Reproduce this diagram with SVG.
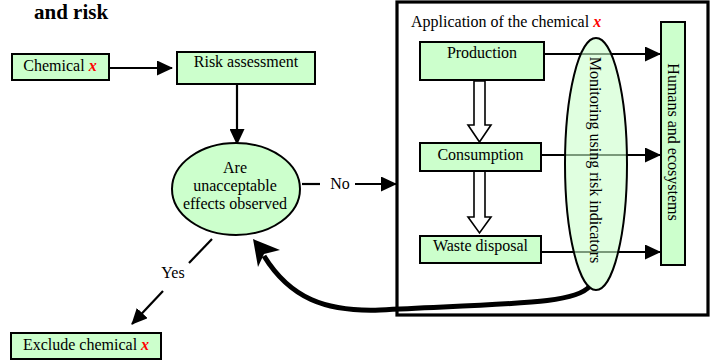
<svg xmlns="http://www.w3.org/2000/svg" width="714" height="363" viewBox="0 0 714 363" font-family="'Times New Roman', 'Liberation Serif', 'DejaVu Serif', serif">
<defs>
<style>
text{font-family:'Times New Roman','Liberation Serif','DejaVu Serif',serif;font-size:16px;fill:#000}
.c{text-anchor:middle}
.x{fill:#ff0000;font-weight:bold;font-style:italic}
.box{fill:#ccffcc;stroke:#000;stroke-width:2}
.ln{fill:none;stroke:#000;stroke-width:2.2}
.hollow{fill:#fff;stroke:#000;stroke-width:1.6}
</style>
<marker id="ah" markerUnits="userSpaceOnUse" markerWidth="16" markerHeight="15" refX="15" refY="7.5" orient="auto">
<path d="M0,0 L16,7.5 L0,15 z" fill="#000"/>
</marker>
</defs>
<rect width="714" height="363" fill="#fff"/>

<text x="34" y="19" style="font-weight:bold;font-size:21px">and risk</text>

<g id="application">
<rect x="397" y="2" width="311" height="313" fill="none" stroke="#000" stroke-width="3.2"/>
<text x="411" y="27">Application of the chemical <tspan class="x">x</tspan></text>
</g>

<g id="connectors">
<line class="ln" x1="109" y1="68" x2="172" y2="68" marker-end="url(#ah)"/>
<line class="ln" x1="237" y1="84" x2="237" y2="144" marker-end="url(#ah)"/>
<line class="ln" x1="302" y1="184" x2="320" y2="184"/>
<line class="ln" x1="355" y1="184" x2="396" y2="184" marker-end="url(#ah)"/>
<line class="ln" x1="212" y1="239" x2="189" y2="263"/>
<line class="ln" x1="163" y1="291" x2="132" y2="324" marker-end="url(#ah)"/>
<line class="ln" x1="541" y1="54" x2="660" y2="54" marker-end="url(#ah)"/>
<line class="ln" x1="541" y1="155" x2="660" y2="155" marker-end="url(#ah)"/>
<line class="ln" x1="541" y1="252" x2="660" y2="252" marker-end="url(#ah)"/>
<path class="hollow" d="M474,81 L485,81 L485,125 L491,125 L479.5,142 L468,125 L474,125 Z"/>
<path class="hollow" d="M474,171 L485,171 L485,217 L491,217 L479.5,233 L468,217 L474,217 Z"/>
<path d="M590,286 C575,304 520,303 380,310 C325,312 290,298 264,256" fill="none" stroke="#000" stroke-width="5"/>
<polygon points="253,239 280,250 264,254 258,267" fill="#000"/>
<text x="340" y="189" class="c">No</text>
<text x="173" y="278" class="c">Yes</text>
</g>

<g id="chemical">
<rect class="box" x="12" y="54" width="97" height="26"/>
<text x="60" y="71" class="c">Chemical <tspan class="x">x</tspan></text>
</g>

<g id="risk">
<rect class="box" x="177" y="52" width="138" height="32"/>
<text x="246" y="67" class="c">Risk assessment</text>
</g>

<g id="decision">
<ellipse cx="236" cy="189" rx="64" ry="46" fill="#ccffcc" stroke="#000" stroke-width="2"/>
<text x="235" y="173" class="c">Are</text>
<text x="235" y="191" class="c">unacceptable</text>
<text x="235" y="209" class="c">effects observed</text>
</g>

<g id="exclude">
<rect class="box" x="11" y="333" width="150" height="26"/>
<text x="86" y="350" class="c">Exclude chemical <tspan class="x">x</tspan></text>
</g>

<g id="production">
<rect class="box" x="420" y="42" width="124" height="38"/>
<text x="482" y="58" class="c">Production</text>
</g>

<g id="consumption">
<rect class="box" x="420" y="143" width="121" height="28"/>
<text x="480.5" y="160" class="c">Consumption</text>
</g>

<g id="waste">
<rect class="box" x="420" y="236" width="121" height="27"/>
<text x="480.5" y="251" class="c">Waste disposal</text>
</g>

<g id="humans">
<rect class="box" x="661" y="22" width="24" height="243"/>
<text transform="translate(668,142) rotate(90)" class="c">Humans and ecosystems</text>
</g>

<g id="monitoring">
<ellipse cx="596" cy="164" rx="31" ry="126" fill="#ccffcc" fill-opacity="0.6" stroke="#000" stroke-width="2"/>
<text transform="translate(590,160) rotate(90)" class="c">Monitoring using risk indicators</text>
</g>
</svg>
